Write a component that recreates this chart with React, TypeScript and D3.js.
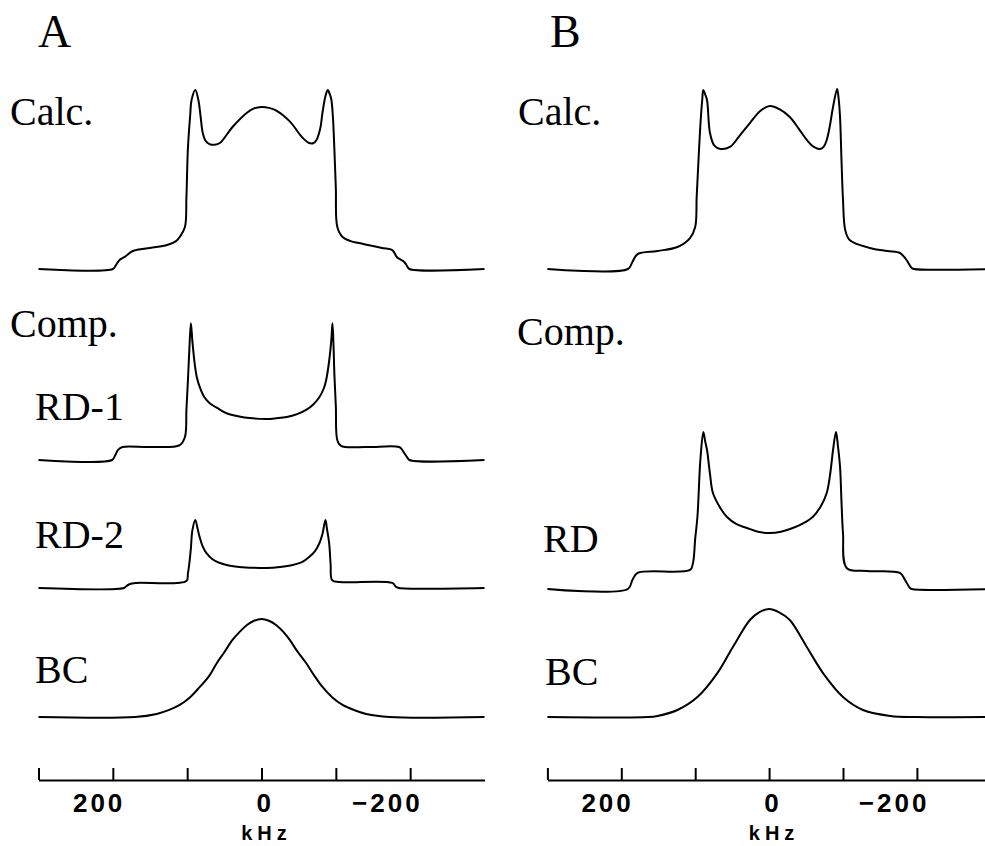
import React, { useRef, useEffect } from 'react';
import * as d3 from 'd3';

type Pt = [number, number];

// [kHz, intensity], intensity in % of the Calc. horn height
const calcA: Pt[] = [
  [300, 0], [200, 0], [196, 2], [191, 5], [184, 6.7], [173, 10], [150, 11.7], [127, 13.3],
  [115, 15.5], [110, 17.8], [103, 23.3], [101, 40], [99, 67], [96, 85], [94, 94], [89, 99.4],
  [85, 94], [82, 85], [79, 75.5], [75, 71], [70, 69.4], [63, 69], [56, 70], [39, 78.9],
  [20, 86.7], [10, 89.2], [0, 90], [-10, 89.5], [-20, 88], [-38, 82], [-55, 73], [-64, 70],
  [-70, 70], [-74, 71.7], [-79, 78], [-82, 86.7], [-86, 96], [-89, 99.4], [-92, 97], [-94, 94],
  [-96, 85], [-98, 67], [-100, 45], [-102, 23.3], [-109, 17.8], [-120, 15.5], [-131, 14.4],
  [-162, 11.7], [-176, 10.5], [-182, 6.7], [-188, 5], [-192, 3.9], [-196, 1.5], [-199, 0],
  [-300, 0],
];

const rd1A: Pt[] = [
  [300, 0], [201, 0], [197, 2.5], [193, 5.6], [187, 7.2], [150, 7.2], [110, 8.3], [103, 12.8],
  [101, 28], [99, 44], [97, 62], [95, 76], [93, 66], [90, 54], [87, 46], [83, 40.5], [77, 35],
  [70, 31.7], [58, 28.5], [47, 26], [30, 24.2], [16, 23.3], [-7, 22.8], [-20, 23.2], [-34, 23.9],
  [-48, 25.5], [-60, 27.8], [-70, 31], [-78, 35], [-84, 40], [-87, 44.4], [-91, 55], [-94, 67],
  [-95.5, 76], [-97, 62], [-98, 48], [-100, 30], [-102, 11], [-107, 7.8], [-141, 7.2],
  [-185, 7.2], [-189, 5.8], [-192, 3.9], [-196, 1.5], [-199, 0], [-300, 0],
];

const rd2A: Pt[] = [
  [300, 0], [185, 0], [182, 1], [177, 2.2], [168, 2.8], [101, 3.9], [99, 8], [97, 13.9],
  [95, 22], [93, 32], [89, 37.8], [86, 33], [83, 28], [79, 23], [74, 19.4], [66, 16],
  [56, 13.9], [44, 12.5], [30, 11.7], [10, 11.2], [-7, 11.1], [-25, 11.7], [-42, 12.8],
  [-55, 14.5], [-64, 17.2], [-72, 20.5], [-78, 25], [-82, 30], [-86, 37.8], [-88, 33],
  [-91, 25], [-93, 13], [-95, 4.4], [-105, 3.3], [-176, 2.8], [-181, 0.6], [-185, 0], [-300, 0],
];

const bcA: Pt[] = [
  [300, 0], [170, 0], [141, 1.7], [125, 3.8], [110, 6.7], [96, 11], [83, 16.7], [70, 23],
  [60, 30], [50, 36], [39, 42.8], [30, 47], [20, 51], [10, 53.5], [0, 54.4], [-10, 53.5],
  [-20, 51], [-30, 47], [-38, 42.8], [-49, 36], [-60, 30], [-71, 23], [-82, 16.7], [-95, 11],
  [-109, 6.7], [-125, 3.8], [-141, 1.7], [-172, 0], [-300, 0],
];

const calcB: Pt[] = [
  [300, 0], [191, 0], [185, 3.9], [178, 8.3], [151, 10], [124, 12.2], [107, 17.2], [100, 23.3],
  [98, 40], [96, 56.7], [93, 80], [90.5, 93.9], [89, 99.4], [86.5, 97], [84, 93.9], [80, 75.6],
  [74, 68.5], [66, 66.7], [53, 67.8], [40, 74], [26, 81.1], [12, 87.8], [-1, 90.6], [-14, 88.8],
  [-28, 84.4], [-40, 78], [-51, 71.7], [-60, 68], [-69, 66.7], [-74, 68], [-78, 71.7], [-82, 79],
  [-86.5, 90], [-92, 100], [-94, 95], [-96, 84.4], [-98, 60], [-100, 38.3], [-103, 21.7],
  [-109, 16.1], [-136, 11.7], [-160, 10], [-177, 8.9], [-181, 7.5], [-186, 5], [-193, 0.6],
  [-196, 0], [-300, 0],
];

const rdB: Pt[] = [
  [300, 0], [191, 0], [185, 5], [178, 8.9], [107, 10.6], [103, 14.4], [100, 28], [97, 40],
  [93, 71.7], [89, 87.2], [86.5, 82], [84, 77.2], [80, 64], [76, 53.3], [66, 45], [57, 40],
  [44, 36], [30, 33.9], [15, 31.8], [-1, 31.1], [-16, 31.8], [-32, 33.9], [-46, 36.5], [-59, 40],
  [-70, 46], [-78, 53.3], [-83, 65], [-86.5, 77.2], [-90.5, 87.2], [-93, 80], [-96, 67.8],
  [-98, 48], [-100, 31.1], [-105, 11.7], [-132, 10], [-177, 8.9], [-184, 5], [-190.5, 0.6],
  [-193, 0], [-300, 0],
];

const bcB: Pt[] = [
  [300, 0], [164, 0], [151, 0.6], [124, 3.9], [97, 11.1], [70, 24.4], [49, 38.9], [26, 53.9],
  [13, 58.3], [0, 60], [-13, 58.3], [-28, 53.9], [-51, 38.9], [-73, 24.4], [-100, 11.1],
  [-127, 3.9], [-164, 0.6], [-200, 0], [-300, 0],
];

const axisTicks = [300, 200, 100, 0, -100, -200];
const axisLabels = [200, 0, -200];

const W = 985, H = 846;
const serif = '"Liberation Serif", "DejaVu Serif", serif';
const sans = '"Liberation Sans", Arial, sans-serif';

const panels = [
  {
    name: 'A', nx: 38, range: [38.5, 484.5],
    traces: [
      { data: calcA, base: 269, label: 'Calc.', lx: 10, ly: 125 },
      { data: rd1A, base: 460, label: 'RD-1', lx: 35, ly: 420 },
      { data: rd2A, base: 588, label: 'RD-2', lx: 35, ly: 548 },
      { data: bcA, base: 717, label: 'BC', lx: 35, ly: 683 },
    ],
    comp: [10, 337],
  },
  {
    name: 'B', nx: 550, range: [547.4, 990.8],
    traces: [
      { data: calcB, base: 269, label: 'Calc.', lx: 518, ly: 125 },
      { data: rdB, base: 589, label: 'RD', lx: 543, ly: 552 },
      { data: bcB, base: 717, label: 'BC', lx: 545, ly: 685 },
    ],
    comp: [517, 345],
  },
];

const App = () => {
  const ref = useRef<SVGSVGElement>(null);

  useEffect(() => {
    const svg = d3.select(ref.current);
    svg.selectAll('*').remove();

    panels.forEach(p => {
      const x = d3.scaleLinear().domain([300, -300]).range(p.range);
      const g = svg.append('g');

      g.append('text').attr('x', p.nx).attr('y', 47)
        .attr('font-family', serif).attr('font-size', 46).text(p.name);
      g.append('text').attr('x', p.comp[0]).attr('y', p.comp[1])
        .attr('font-family', serif).attr('font-size', 40).text('Comp.');

      p.traces.forEach(t => {
        const y = d3.scaleLinear().domain([0, 100]).range([t.base, t.base - 180]);
        const line = d3.line<Pt>().x(d => x(d[0])).y(d => y(d[1]))
          .curve(d3.curveCatmullRom.alpha(0.5));
        g.append('path').datum(t.data).attr('d', line)
          .attr('fill', 'none').attr('stroke', '#000').attr('stroke-width', 2)
          .attr('stroke-linejoin', 'round');
        g.append('text').attr('x', t.lx).attr('y', t.ly)
          .attr('font-family', serif).attr('font-size', 40).text(t.label);
      });

      const axis = d3.axisBottom(x).tickValues(axisTicks).tickSize(-12).tickSizeOuter(0)
        .tickFormat(d => axisLabels.includes(+d) ? d3.format('d')(+d) : '');
      const ax = g.append('g').attr('transform', 'translate(0, 780)').call(axis);
      ax.select('.domain').attr('stroke-width', 2.2);
      ax.selectAll('.tick line').attr('stroke-width', 2);
      ax.selectAll('.tick text')
        .attr('y', 32).attr('dy', 0).attr('x', 12).attr('text-anchor', 'end')
        .attr('font-family', sans).attr('font-weight', 'bold').attr('font-size', 26)
        .attr('letter-spacing', 3).attr('fill', '#000');

      g.append('text').attr('x', x(0) + 5).attr('y', 840).attr('text-anchor', 'middle')
        .attr('font-family', sans).attr('font-weight', 'bold').attr('font-size', 20)
        .attr('letter-spacing', 5).text('kHz');
    });
  }, []);

  return (
    <svg ref={ref} width={W} height={H}
      style={{ position: 'absolute', left: 0, top: 0, background: '#fff' }} />
  );
};

export default App;
